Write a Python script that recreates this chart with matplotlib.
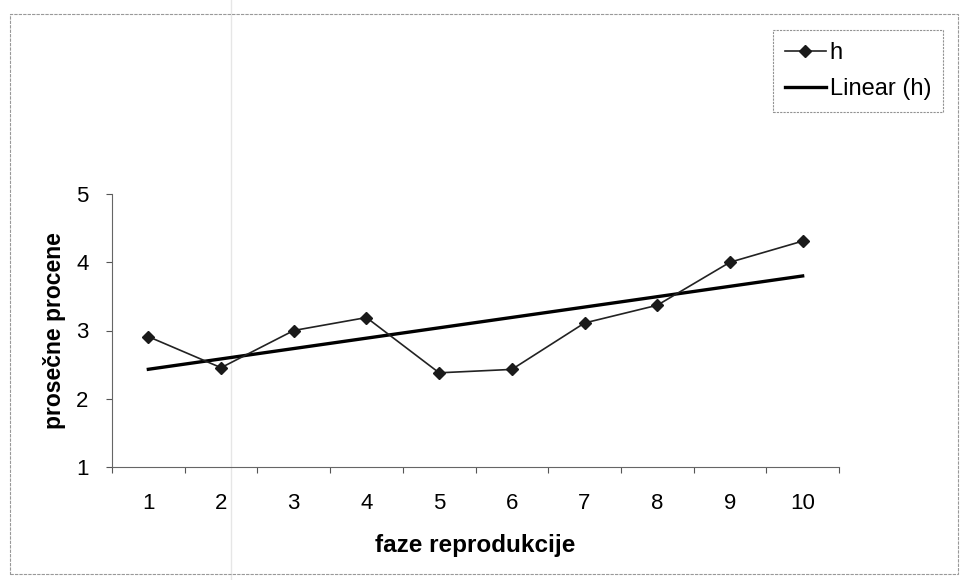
import numpy as np
import matplotlib.pyplot as plt
from matplotlib.patches import Rectangle

# Data
ar_faze = np.arange(1, 11)
ar_h = [2.91, 2.455, 3.00, 3.19, 2.38, 2.43, 3.11, 3.37, 4.00, 4.31]
ls_xticklabels = [str(i) for i in ar_faze]
st_xlabel = 'faze reprodukcije'
st_ylabel = 'prosečne procene'

plt.rcParams['font.family'] = ['Liberation Sans', 'DejaVu Sans']

fig = plt.figure(figsize=(9.64, 5.8), dpi=100)
ax = fig.add_axes([112 / 964, 1 - 467 / 580, 727 / 964, 273 / 580])
ax.set_facecolor('none')

# Series and linear trend
ax.plot(ar_faze, ar_h, color='#222222', linewidth=1.2, marker='D',
        markersize=6.5, markerfacecolor='#1a1a1a', markeredgecolor='#1a1a1a',
        label='h', zorder=3)
fl_slope, fl_icpt = np.polyfit(ar_faze, ar_h, 1)
ax.plot(ar_faze, fl_icpt + fl_slope * ar_faze, color='black', linewidth=2.4,
        label='Linear (h)', zorder=2)

# Axes
ax.set_xlim(0.5, 10.5)
ax.set_ylim(1, 5)
ax.set_yticks([1, 2, 3, 4, 5])
ax.set_xticks(ar_faze)
ax.set_xticklabels(ls_xticklabels)
ax.set_xticks(np.arange(0.5, 11, 1), minor=True)
ax.tick_params(axis='x', which='major', length=0, pad=19, labelsize=16)
ax.tick_params(axis='x', which='minor', length=4, width=0.8, color='#555555')
ax.tick_params(axis='y', length=4, width=0.8, color='#555555', pad=13, labelsize=16)
for st_side in ['top', 'right']:
    ax.spines[st_side].set_visible(False)
for st_side in ['left', 'bottom']:
    ax.spines[st_side].set_color('#666666')
    ax.spines[st_side].set_linewidth(0.8)

ax.set_xlabel(st_xlabel, fontsize=17.5, fontweight='bold', labelpad=14)
ax.set_ylabel(st_ylabel, fontsize=16.5, fontweight='bold', labelpad=7)

# Legend
leg = ax.legend(loc='upper left', bbox_to_anchor=(773 / 964, 1 - 30 / 580),
                bbox_transform=fig.transFigure, fontsize=17, frameon=True,
                fancybox=False, edgecolor='#777777', handlelength=1.75,
                handletextpad=0.15, borderpad=0.5, labelspacing=0.6,
                borderaxespad=0)
leg.get_frame().set_linewidth(0.8)
leg.get_frame().set_linestyle((0, (2, 1)))

# Outer chart border and faint scan fold
fig.patches.append(Rectangle((10 / 964, 6 / 580), 948 / 964, 560 / 580,
                             transform=fig.transFigure, fill=False,
                             edgecolor='#999999', linewidth=0.8,
                             linestyle=(0, (3, 1))))
fig.add_artist(plt.Line2D([231 / 964, 231 / 964], [0, 1], transform=fig.transFigure,
                          color='#e6e6e6', linewidth=1.0, zorder=0))

plt.savefig('out.png', dpi=100)
